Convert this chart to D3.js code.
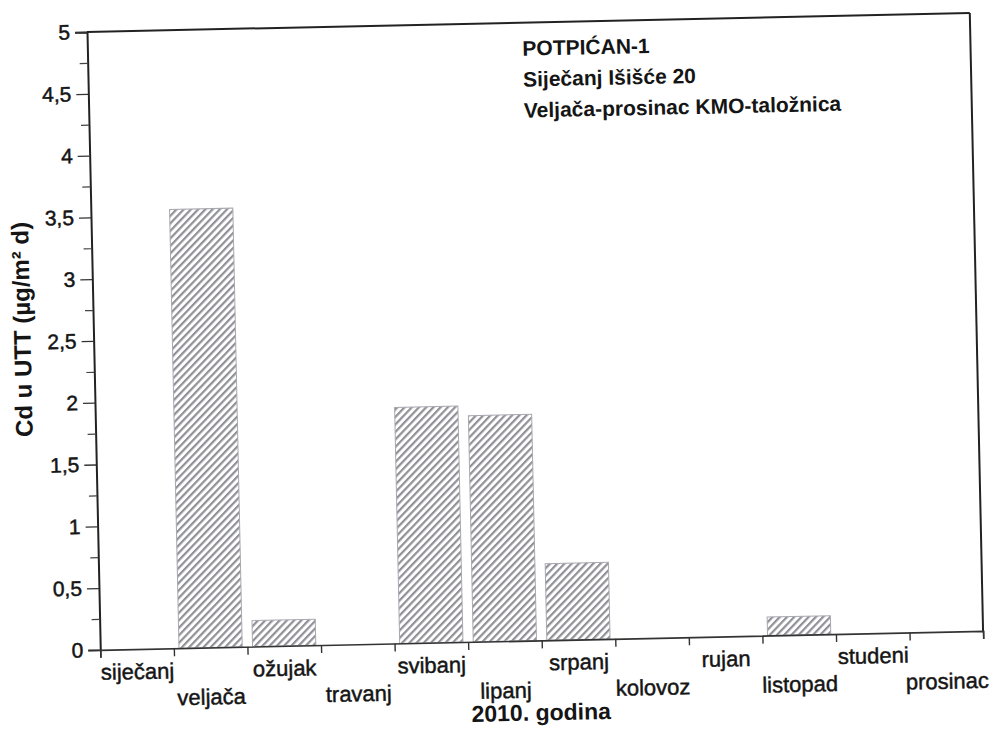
<!DOCTYPE html>
<html><head><meta charset="utf-8">
<script src="https://cdn.jsdelivr.net/npm/d3@7"></script>
<style>
body{margin:0;background:#fff}
text{font-family:"Liberation Sans",Arial,sans-serif;fill:#151515}
</style>
</head><body><svg id="c" width="992" height="733"></svg>
<script>
const months = ["siječanj","veljača","ožujak","travanj","svibanj","lipanj","srpanj","kolovoz","rujan","listopad","studeni","prosinac"];
const cdValues = [0, 3.55, 0.21, 0, 1.91, 1.83, 0.62, 0, 0, 0.15, 0, 0];
const yTicks = [0,0.5,1,1.5,2,2.5,3,3.5,4,4.5,5];
const yTickLabels = ["0","0,5","1","1,5","2","2,5","3","3,5","4","4,5","5"];
const yMinorTicks = [0.25,0.75,1.25,1.75,2.25,2.75,3.25,3.75,4.25,4.75];
const titleLines = ["POTPIĆAN-1","Siječanj Išišće 20","Veljača-prosinac KMO-taložnica"];
const yAxisTitle = "Cd u UTT (µg/m² d)";
const xAxisTitle = "2010. godina";

const L = 87, T = 32, W = 883, H = 618;
const svg = d3.select("#c");
const defs = svg.append("defs");
const pat = defs.append("pattern").attr("id","hatch").attr("patternUnits","userSpaceOnUse")
  .attr("width",5.2).attr("height",5.2).attr("patternTransform","rotate(45)");
pat.append("rect").attr("width",5.2).attr("height",5.2).attr("fill","#fff");
pat.append("rect").attr("x",0).attr("y",0).attr("width",2.2).attr("height",5.2).attr("fill","#909098");

const g = svg.append("g").attr("transform",`rotate(-1.23, ${L}, ${T})`);

const x = d3.scaleBand().domain(months).range([L, L+W]).paddingInner(0.14).paddingOuter(0.07);
const y = d3.scaleLinear().domain([0,5]).range([T+H, T]);
const xb = d3.scaleLinear().domain([0, months.length]).range([L, L+W]);

// bars
g.selectAll("rect.bar").data(months.map((m,i)=>({m, v:cdValues[i]})).filter(d=>d.v>0))
  .join("rect").attr("class","bar")
  .attr("x", d=>x(d.m)).attr("width", x.bandwidth())
  .attr("y", d=>y(d.v)).attr("height", d=>y(0)-y(d.v))
  .attr("fill","url(#hatch)").attr("stroke","#a8a8b0").attr("stroke-width",1);

// frame: top and right
g.append("line").attr("x1",L).attr("y1",T).attr("x2",L+W).attr("y2",T).attr("stroke","#222").attr("stroke-width",2);
g.append("line").attr("x1",L+W).attr("y1",T).attr("x2",L+W).attr("y2",T+H).attr("stroke","#222").attr("stroke-width",2);

// y axis
const ya = g.append("g").attr("transform",`translate(${L},0)`)
  .call(d3.axisLeft(y).tickValues(yTicks).tickFormat((d,i)=>yTickLabels[i]).tickSize(12).tickPadding(5));
ya.select(".domain").attr("stroke","#222").attr("stroke-width",2);
ya.selectAll(".tick line").attr("stroke","#333").attr("stroke-width",1.3);
ya.selectAll(".tick text").style("font-size","21px").style("font-family","'Liberation Sans',Arial,sans-serif")
  .attr("fill","#151515").attr("stroke","#151515").attr("stroke-width",0.5);
const ym = g.append("g").attr("transform",`translate(${L},0)`)
  .call(d3.axisLeft(y).tickValues(yMinorTicks).tickFormat("").tickSize(8));
ym.select(".domain").remove();
ym.selectAll(".tick line").attr("stroke","#444").attr("stroke-width",1.2);

// x axis (boundary ticks)
const xa = g.append("g").attr("transform",`translate(0,${T+H})`)
  .call(d3.axisBottom(xb).tickValues(d3.range(0, months.length+1)).tickFormat("").tickSize(8));
xa.select(".domain").attr("stroke","#333").attr("stroke-width",1.6);
xa.selectAll(".tick line").attr("stroke","#333").attr("stroke-width",1.4);

// month labels (alternating rows)
g.selectAll("text.month").data(months).join("text").attr("class","month")
  .attr("x", d=>x(d)+x.bandwidth()/2)
  .attr("y", (d,i)=> T+H + (i%2===0 ? 30 : 57))
  .attr("text-anchor","middle").style("font-size","22px")
  .attr("stroke","#151515").attr("stroke-width",0.45).text(d=>d);

// x title
g.append("text").attr("x", L+W/2 - 2).attr("y", T+H+80).attr("text-anchor","middle")
  .style("font-size","23px").style("font-weight","bold").text(xAxisTitle);

// y title
g.append("text").attr("transform",`translate(24,${328}) rotate(-90)`).attr("text-anchor","middle")
  .style("font-size","24px").style("font-weight","bold").text(yAxisTitle);

// annotation
g.selectAll("text.ttl").data(titleLines).join("text").attr("class","ttl")
  .attr("x", 522).attr("y",(d,i)=>65 + i*31)
  .style("font-size","21px").style("font-weight","bold").text(d=>d);
</script>
</body></html>
